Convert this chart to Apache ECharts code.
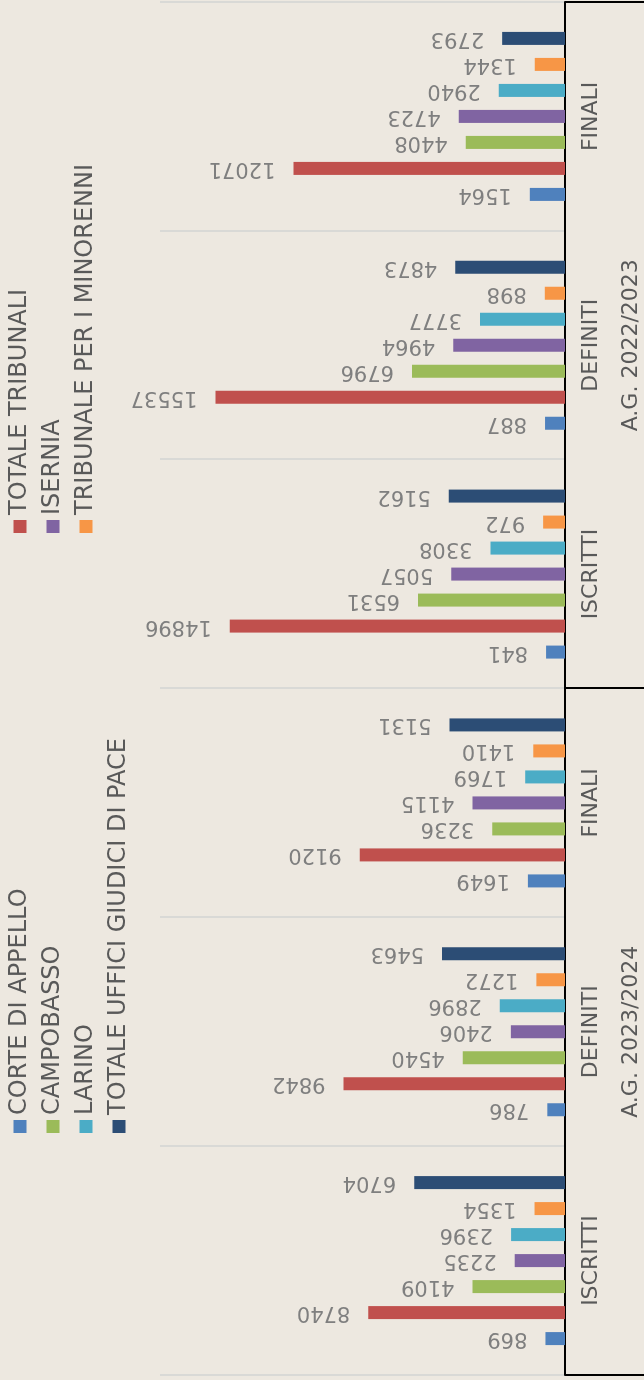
<!DOCTYPE html>
<html>
<head>
<meta charset="utf-8">
<script src="https://cdn.jsdelivr.net/npm/echarts@6/dist/echarts.min.js"></script>
<style>
html, body {
  margin: 0;
  padding: 0;
  width: 644px;
  height: 1380px;
  overflow: hidden;
  background: #EDE8E0;
}
/* chart is drawn landscape and turned a quarter round, like the source */
#chart {
  position: absolute;
  left: 0;
  top: 0;
  width: 1380px;
  height: 644px;
  transform-origin: 0 0;
  transform: translateY(1380px) rotate(-90deg);
}
</style>
</head>
<body>
<div id="chart"></div>
<script>
const groups = ['A.G. 2023/2024', 'A.G. 2022/2023']
const phases = ['ISCRITTI', 'DEFINITI', 'FINALI', 'ISCRITTI', 'DEFINITI', 'FINALI']

const names = [
  'CORTE DI APPELLO',
  'TOTALE TRIBUNALI',
  'CAMPOBASSO',
  'ISERNIA',
  'LARINO',
  'TRIBUNALE PER I MINORENNI',
  'TOTALE UFFICI GIUDICI DI PACE'
]
const corteAppello = [869, 786, 1649, 841, 887, 1564]
const totaleTribunali = [8740, 9842, 9120, 14896, 15537, 12071]
const campobasso = [4109, 4540, 3236, 6531, 6796, 4408]
const isernia = [2235, 2406, 4115, 5057, 4964, 4723]
const larino = [2396, 2896, 1769, 3308, 3777, 2940]
const minorenni = [1354, 1272, 1410, 972, 898, 1344]
const giudiciPace = [6704, 5463, 5131, 5162, 4873, 2793]

const colors = ['#4F81BD', '#C0504D', '#9BBB59', '#8064A2', '#4BACC6', '#F79646', '#2C4D75']
const values = [corteAppello, totaleTribunali, campobasso, isernia, larino, minorenni, giudiciPace]

const font = 'DejaVu Sans'

const chart = echarts.init(document.getElementById('chart'))

const legendBase = {
  orient: 'vertical',
  top: 8,
  itemWidth: 13,
  itemHeight: 13,
  itemGap: 9,
  itemTextGap: 7,
  icon: 'rect',
  padding: 0,
  textStyle: {
    color: '#595959',
    fontSize: 24,
    lineHeight: 23,
    fontFamily: font
  }
}

const series = names.map((name, i) => {
  return {
    name: name,
    type: 'bar',
    xAxisIndex: 0,
    data: values[i],
    barWidth: 13,
    barGap: '100%',
    itemStyle: { color: colors[i] },
    label: {
      show: true,
      position: 'top',
      rotate: 90,
      align: 'left',
      verticalAlign: 'middle',
      distance: 18,
      color: '#7F7F7F',
      fontSize: 21,
      fontFamily: font
    }
  }
})

chart.setOption({
  backgroundColor: '#EDE8E0',
  animation: false,
  legend: [
    Object.assign({}, legendBase, { left: 247, data: [names[0], names[2], names[4], names[6]] }),
    Object.assign({}, legendBase, { left: 847, data: [names[1], names[3], names[5]] })
  ],
  grid: {
    left: 5,
    right: 2,
    top: 160,
    bottom: 79
  },
  xAxis: [
    {
      type: 'category',
      data: phases,
      position: 'bottom',
      axisLine: { lineStyle: { color: '#000', width: 2 } },
      axisTick: { show: false },
      splitLine: {
        show: true,
        interval: 0,
        lineStyle: { color: '#D9D9D6', width: 2 }
      },
      axisLabel: {
        interval: 0,
        margin: 15,
        color: '#595959',
        fontSize: 22,
        fontFamily: font
      }
    },
    {
      type: 'category',
      data: groups,
      position: 'bottom',
      offset: 0,
      axisLine: { show: false },
      axisTick: {
        show: true,
        interval: 0,
        length: 79,
        lineStyle: { color: '#000', width: 2 }
      },
      splitLine: { show: false },
      axisLabel: {
        interval: 0,
        margin: 55,
        color: '#595959',
        fontSize: 22,
        fontFamily: font
      }
    }
  ],
  yAxis: {
    type: 'value',
    min: 0,
    max: 18000,
    show: false
  },
  series: series
})
</script>
</body>
</html>
